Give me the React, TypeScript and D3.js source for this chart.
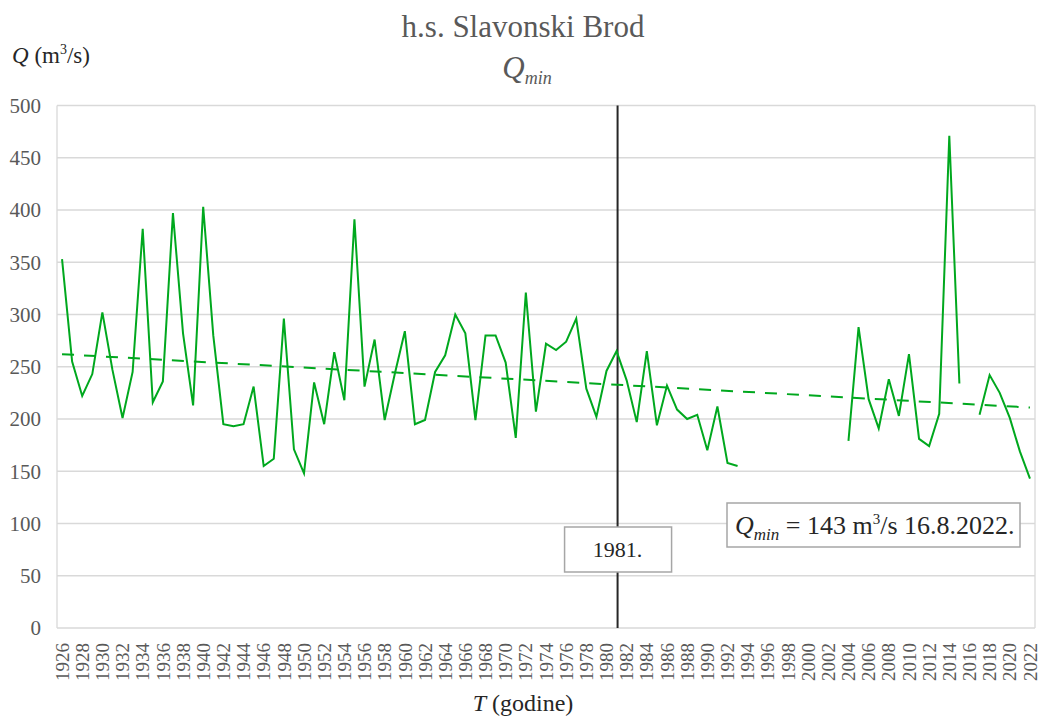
import React from "react";
import * as d3 from "d3";

const years: number[] = d3.range(1926, 2023);
const qmin: (number | null)[] = [
  353, 255, 222, 243, 302, 247, 201, 245, 382, 216,
  236, 397, 282, 213, 403, 280, 195, 193, 195, 231,
  155, 162, 296, 171, 148, 235, 195, 264, 218, 391,
  231, 276, 199, 243, 284, 195, 199, 245, 261, 300,
  282, 199, 280, 280, 254, 182, 321, 207, 272, 266,
  274, 296, 229, 202, 246, 265, 237, 197, 265, 194,
  232, 209, 200, 204, 170, 212, 158, 155,
  null, null, null, null, null, null, null, null, null, null,
  179, 288, 219, 191, 238, 203, 262, 181, 174, 205,
  471, 234, null, 204, 242, 225, 201, 169, 143,
];
const trendEnds: number[] = [262, 211];
const yTicks: number[] = [0, 50, 100, 150, 200, 250, 300, 350, 400, 450, 500];
const xTickYears: number[] = years.filter((y) => (y - 1926) % 2 === 0);
const markerYear = 1981;

const W = 1040;
const H = 716;
const left = 57;
const right = 1035;
const top = 105.5;
const bottom = 628;
const green = "#00a81e";
const grey = "#595959";
const dark = "#262626";
const font =
  "Times New Roman, Times, Liberation Serif, Tinos, Noto Serif, DejaVu Serif, FreeSerif, serif";

export default function App() {
  const x = d3.scaleBand<number>().domain(years).range([left, right]);
  const bw = x.bandwidth();
  const cx = (yr: number) => (x(yr) as number) + bw / 2;
  const y = d3.scaleLinear().domain([0, 500]).range([bottom, top]);

  const pts = years.map((yr, i) => ({ yr, v: qmin[i] }));
  const line = d3
    .line<{ yr: number; v: number | null }>()
    .defined((d) => d.v !== null)
    .x((d) => cx(d.yr))
    .y((d) => y(d.v as number));

  const trendLine = d3
    .line<[number, number]>()
    .x((d) => cx(d[0]))
    .y((d) => y(d[1]));
  const trendPts: [number, number][] = [
    [years[0], trendEnds[0]],
    [years[years.length - 1], trendEnds[1]],
  ];

  const mx = cx(markerYear) + 1;

  return (
    <svg
      width={W}
      height={H}
      fontFamily={font}
      style={{ position: "absolute", left: 0, top: 0, background: "#fff" }}
    >
      <rect x={0} y={0} width={W} height={H} fill="#fff" />
      {yTicks.map((t) => (
        <line key={t} x1={left} x2={right} y1={y(t)} y2={y(t)} stroke="#d9d9d9" strokeWidth={1.3} />
      ))}
      <line x1={left} x2={left} y1={top} y2={bottom} stroke="#d9d9d9" strokeWidth={1.3} />
      <line x1={right} x2={right} y1={top} y2={bottom} stroke="#d9d9d9" strokeWidth={1.3} />

      {yTicks.map((t) => (
        <text key={t} x={41} y={y(t)} dy="0.35em" textAnchor="end" fontSize={21} fill={grey}>
          {t}
        </text>
      ))}

      {xTickYears.map((yr) => (
        <text
          key={yr}
          transform={`translate(${cx(yr)},${643}) rotate(-90)`}
          dy="0.35em"
          textAnchor="end"
          fontSize={19}
          fill={grey}
        >
          {yr}
        </text>
      ))}

      <line x1={mx} x2={mx} y1={top} y2={bottom} stroke={dark} strokeWidth={2} />

      <path d={trendLine(trendPts) || ""} fill="none" stroke={green} strokeWidth={2} strokeDasharray="12 10" />
      <path d={line(pts) || ""} fill="none" stroke={green} strokeWidth={2} />

      <rect x={mx - 53} y={527} width={107} height={45} fill="#fff" stroke="#a6a6a6" strokeWidth={1.5} />
      <text x={mx} y={557} textAnchor="middle" fontSize={22} fill={dark}>
        {markerYear}.
      </text>

      <rect x={727} y={503} width={293} height={44} fill="#fff" stroke="#a6a6a6" strokeWidth={1.5} />
      <text x={735} y={534} fontSize={26} fill={dark}>
        <tspan fontStyle="italic">Q</tspan>
        <tspan fontStyle="italic" fontSize={17} dy={6}>min</tspan>
        <tspan dy={-6}> = 143 m</tspan>
        <tspan fontSize={15} dy={-10}>3</tspan>
        <tspan dy={10}>/s 16.8.2022.</tspan>
      </text>

      <text x={523} y={37} textAnchor="middle" fontSize={31} fill={grey}>
        h.s. Slavonski Brod
      </text>
      <text x={527} y={78} textAnchor="middle" fontSize={31} fill={grey}>
        <tspan fontStyle="italic">Q</tspan>
        <tspan fontStyle="italic" fontSize={18} dy={6}>min</tspan>
      </text>

      <text x={12} y={63} fontSize={23} fill={dark}>
        <tspan fontStyle="italic">Q</tspan>
        <tspan> (m</tspan>
        <tspan fontSize={14} dy={-9}>3</tspan>
        <tspan dy={9}>/s)</tspan>
      </text>
      <text x={523} y={711} textAnchor="middle" fontSize={24} fill={dark}>
        <tspan fontStyle="italic">T</tspan>
        <tspan> (godine)</tspan>
      </text>
    </svg>
  );
}
